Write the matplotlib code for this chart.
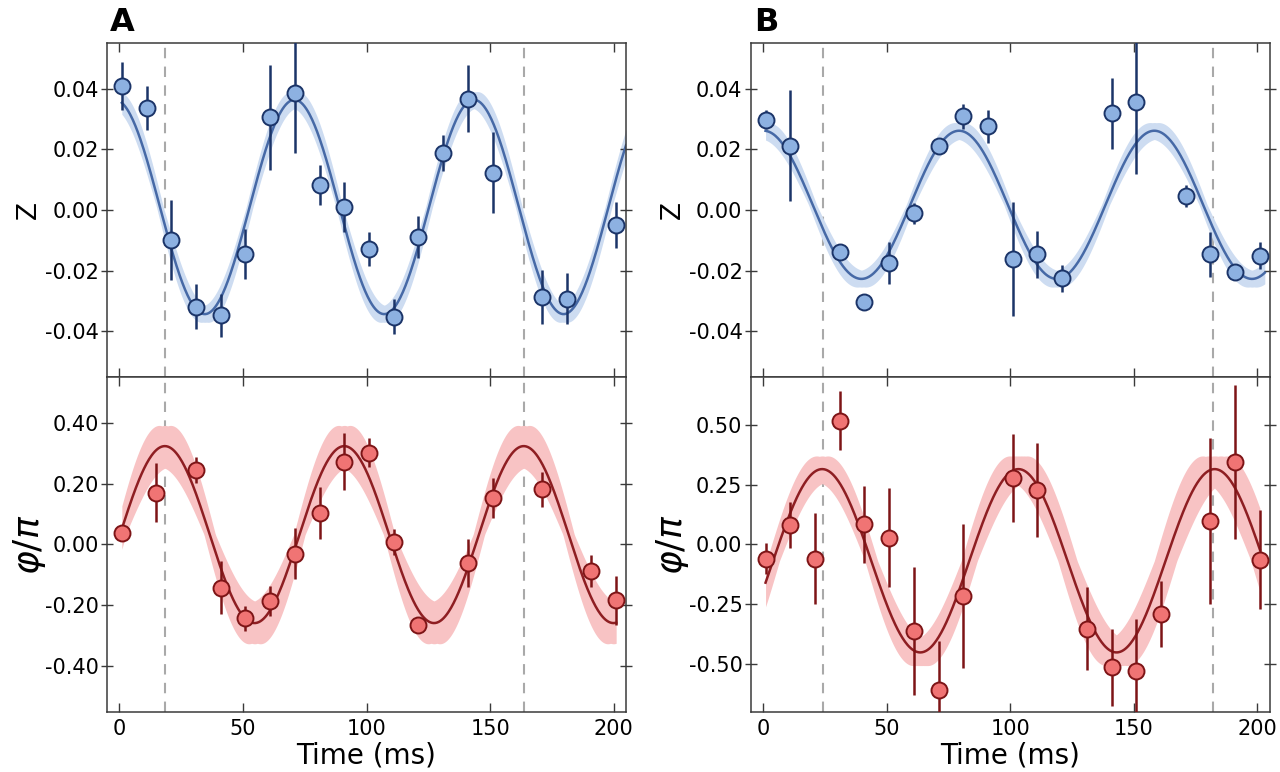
#!/usr/bin/env python3
"""Two-column figure: Z and phi/pi oscillations versus time, with fits."""

import numpy as np
import matplotlib

matplotlib.use("Agg")
import matplotlib.pyplot as plt  # noqa: E402

# ---- panel A, Z ----
a_z_t = [1, 11, 21, 31, 41, 51, 61, 71, 81, 91, 101, 111, 121, 131, 141, 151, 171, 181, 201]
a_z = [0.0408, 0.0336, -0.0099, -0.0319, -0.0347, -0.0144, 0.0305, 0.0386, 0.0081, 0.0010,
       -0.0128, -0.0351, -0.0089, 0.0188, 0.0366, 0.0123, -0.0287, -0.0292, -0.0050]
a_z_err = [0.0079, 0.0071, 0.0133, 0.0074, 0.0071, 0.0083, 0.0173, 0.0197, 0.0066, 0.0083,
           0.0055, 0.0057, 0.0069, 0.0059, 0.0110, 0.0133, 0.0090, 0.0085, 0.0075]

# ---- panel A, phi/pi ----
a_p_t = [1, 15, 31, 41, 51, 61, 71, 81, 91, 101, 111, 121, 141, 151, 171, 191, 201]
a_p = [0.038, 0.170, 0.244, -0.142, -0.242, -0.186, -0.030, 0.104, 0.272, 0.301, 0.008,
       -0.263, -0.060, 0.153, 0.181, -0.088, -0.183]
a_p_err = [0.025, 0.097, 0.042, 0.087, 0.041, 0.050, 0.084, 0.086, 0.093, 0.047, 0.044,
           0.020, 0.078, 0.065, 0.058, 0.052, 0.081]

# ---- panel B, Z ----
b_z_t = [1, 11, 31, 41, 51, 61, 71, 81, 91, 101, 111, 121, 141, 151, 171, 181, 191, 201]
b_z = [0.0298, 0.0212, -0.0139, -0.0304, -0.0175, -0.0011, 0.0212, 0.0308, 0.0276, -0.0161,
       -0.0146, -0.0225, 0.0318, 0.0356, 0.0046, -0.0146, -0.0205, -0.0150]
b_z_err = [0.0030, 0.0184, 0.0020, 0.0015, 0.0068, 0.0035, 0.0020, 0.0040, 0.0054, 0.0187,
           0.0077, 0.0044, 0.0118, 0.0238, 0.0036, 0.0074, 0.0015, 0.0043]

# ---- panel B, phi/pi ----
b_p_t = [1, 11, 21, 31, 41, 51, 61, 71, 81, 101, 111, 131, 141, 151, 161, 181, 191, 201]
b_p = [-0.059, 0.081, -0.059, 0.517, 0.084, 0.028, -0.360, -0.609, -0.215, 0.278, 0.228,
       -0.352, -0.513, -0.528, -0.292, 0.098, 0.346, -0.064]
b_p_err = [0.065, 0.096, 0.190, 0.124, 0.162, 0.206, 0.267, 0.204, 0.302, 0.184, 0.195,
           0.173, 0.161, 0.216, 0.138, 0.346, 0.321, 0.207]

# fit parameters: offset, amplitude, peak time, period,
# time span of the drawn curve, and uncertainties (amplitude, phase in rad, period)
a_z_fit = dict(off=0.0010, amp=0.0353, t_peak=-1.75, period=72.6, t_end=205,
               d_amp=0.0027, d_ph=0.12, d_per=0.0)
a_p_fit = dict(off=0.0325, amp=0.2905, t_peak=18.4, period=72.6, t_end=201,
               d_amp=0.068, d_ph=0.20, d_per=0.0)
b_z_fit = dict(off=0.0017, amp=0.0244, t_peak=79.3, period=79.0, t_end=203,
               d_amp=0.0027, d_ph=0.13, d_per=0.0)
b_p_fit = dict(off=-0.068, amp=0.383, t_peak=23.9, period=79.4, t_end=201,
               d_amp=0.055, d_ph=0.18, d_per=1.3)

a_marks = [18.4, 163.6]
b_marks = [24.2, 182.2]

BLUE_FILL = "#8db1e1"
BLUE_EDGE = "#1b3468"
BLUE_LINE = "#4669a6"
BLUE_BAND = "#cddcf1"
RED_FILL = "#f07474"
RED_EDGE = "#7d1416"
RED_LINE = "#8e1e22"
RED_BAND = "#f8c3c4"


def model(t, off, amp, t_peak, period):
    return off + amp * np.cos(2 * np.pi * (t - t_peak) / period)


def draw_fit(ax, fit, line_color, band_color):
    t = np.linspace(1, fit["t_end"], 600)
    curve = model(t, fit["off"], fit["amp"], fit["t_peak"], fit["period"])
    variants = []
    for da in (-fit["d_amp"], 0, fit["d_amp"]):
        for dp in (-fit["d_ph"], 0, fit["d_ph"]):
            for dT in (-fit["d_per"], 0, fit["d_per"]):
                shift = dp / (2 * np.pi) * fit["period"]
                variants.append(model(t, fit["off"], fit["amp"] + da,
                                      fit["t_peak"] + shift, fit["period"] + dT))
    variants = np.array(variants)
    ax.fill_between(t, variants.min(axis=0), variants.max(axis=0),
                    color=band_color, lw=0, zorder=1)
    ax.plot(t, curve, color=line_color, lw=1.8, zorder=2)


def draw_points(ax, t, y, err, fill, edge):
    ax.errorbar(t, y, yerr=err, fmt="o", ms=11.5, mfc=fill, mec=edge, mew=1.4,
                ecolor=edge, elinewidth=1.8, capsize=0, zorder=4)


def style_axes(ax, top_panel):
    for spine in ax.spines.values():
        spine.set_color("#3a3a3a")
        spine.set_linewidth(1.1)
    ax.set_xlim(-5, 205)
    ax.set_xticks([0, 50, 100, 150, 200])
    ax.tick_params(axis="x", direction="in", length=6.5, width=1.0, color="#3a3a3a",
                   top=True, labelsize=15, pad=5)
    ax.tick_params(axis="y", which="both", direction="inout", length=8, width=1.0,
                   color="#3a3a3a", labelsize=15, pad=2)
    ax.tick_params(axis="y", right=True)
    if top_panel:
        ax.tick_params(axis="x", labelbottom=False)


fig = plt.figure(figsize=(12.8, 7.72), dpi=100)

columns = [
    (0.0836, 0.4055, a_z_t, a_z, a_z_err, a_z_fit, a_p_t, a_p, a_p_err, a_p_fit, a_marks,
     0.55, [-0.4, -0.2, 0.0, 0.2, 0.4], "A"),
    (0.5865, 0.4055, b_z_t, b_z, b_z_err, b_z_fit, b_p_t, b_p, b_p_err, b_p_fit, b_marks,
     0.70, [-0.5, -0.25, 0.0, 0.25, 0.5], "B"),
]

for (left, width, zt, zv, ze, zfit, pt, pv, pe, pfit, marks, plim, pticks, letter) in columns:
    ax_top = fig.add_axes([left, 0.5117, width, 0.4326])
    ax_bot = fig.add_axes([left, 0.0777, width, 0.4340])

    for m in marks:
        for ax in (ax_top, ax_bot):
            ax.axvline(m, color="#a9a9a9", lw=1.5, ls=(0, (5, 4)), zorder=0)

    draw_fit(ax_top, zfit, BLUE_LINE, BLUE_BAND)
    draw_points(ax_top, zt, zv, ze, BLUE_FILL, BLUE_EDGE)
    draw_fit(ax_bot, pfit, RED_LINE, RED_BAND)
    draw_points(ax_bot, pt, pv, pe, RED_FILL, RED_EDGE)

    style_axes(ax_top, True)
    style_axes(ax_bot, False)

    ax_top.set_ylim(-0.055, 0.055)
    ax_top.set_yticks([-0.04, -0.02, 0.0, 0.02, 0.04])
    ax_top.set_yticklabels(["-0.04", "-0.02", "0.00", "0.02", "0.04"])
    ax_bot.set_ylim(-plim, plim)
    ax_bot.set_yticks(pticks)
    ax_bot.set_yticklabels([f"{v:.2f}" for v in pticks])

    ax_top.set_ylabel("Z", fontsize=19, labelpad=2)
    ax_bot.set_ylabel(r"$\varphi/\pi$", fontsize=26, labelpad=-2)
    ax_bot.set_xlabel("Time (ms)", fontsize=20, labelpad=2)

    ax_top.text(0.03, 1.015, letter, transform=ax_top.transAxes, fontsize=23,
                fontweight="bold", family=["Liberation Sans Narrow", "DejaVu Sans"],
                ha="center", va="bottom")

fig.savefig("out.png", dpi=100)
